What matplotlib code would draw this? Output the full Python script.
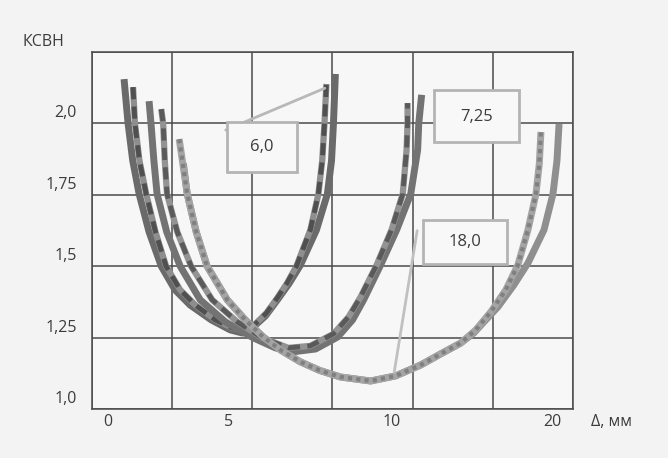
import numpy as np
import matplotlib
matplotlib.use('Agg')
import matplotlib.pyplot as plt
from matplotlib.patches import Rectangle

# --- data (Δ in mm, КСВН) ---
# group "6,0"
d60_solid = [1.0, 1.125, 1.27, 1.47, 1.78, 2.16, 2.59, 3.06, 3.72, 4.31, 4.69, 5.0, 5.41, 5.78, 6.15, 6.5, 7.0, 7.34, 7.47, 7.53, 7.59]
v60_solid = [2.155, 2.0, 1.87, 1.753, 1.62, 1.50, 1.417, 1.364, 1.312, 1.277, 1.266, 1.284, 1.326, 1.382, 1.44, 1.504, 1.627, 1.753, 1.87, 2.0, 2.173]
d60_dash = [1.28, 1.34, 1.48, 1.69, 1.98, 2.31, 2.75, 3.22, 3.84, 4.375, 4.72, 5.06, 5.44, 5.78, 6.08, 6.375, 6.81, 7.06, 7.18, 7.25, 7.31]
v60_dash = [2.127, 2.0, 1.87, 1.753, 1.62, 1.50, 1.417, 1.364, 1.312, 1.284, 1.277, 1.294, 1.336, 1.389, 1.44, 1.50, 1.627, 1.753, 1.87, 2.0, 2.138]

# group "7,25"
d725_solid = [1.78, 1.84, 1.93, 2.03, 2.33, 2.75, 3.375, 4.16, 5.03, 5.72, 6.25, 6.97, 7.66, 8.125, 8.47, 9.0, 9.5, 9.94, 10.31, 10.38, 10.56]
v725_solid = [2.078, 2.0, 1.87, 1.753, 1.62, 1.50, 1.382, 1.305, 1.249, 1.214, 1.20, 1.21, 1.252, 1.312, 1.382, 1.504, 1.627, 1.753, 1.907, 2.0, 2.10]
d725_dash = [2.16, 2.22, 2.27, 2.34, 2.66, 3.09, 3.75, 4.53, 5.31, 6.125, 6.81, 7.53, 8.0, 8.375, 8.875, 9.34, 9.69, 9.81, 9.84, 9.84]
v725_dash = [2.05, 2.0, 1.87, 1.753, 1.62, 1.50, 1.382, 1.305, 1.249, 1.214, 1.221, 1.263, 1.322, 1.392, 1.504, 1.627, 1.753, 1.907, 2.0, 2.071]

# group "18,0"
d18_dot = [2.72, 2.97, 3.25, 3.59, 4.22, 4.78, 5.34, 5.9, 6.5, 7.1, 7.75, 8.69, 9.47, 10.5, 11.75, 13.0, 13.94, 14.875, 15.81, 16.56, 17.19, 17.69, 17.9, 18.0]
v18_dot = [1.945, 1.753, 1.62, 1.50, 1.382, 1.312, 1.252, 1.205, 1.165, 1.135, 1.112, 1.098, 1.116, 1.154, 1.193, 1.231, 1.277, 1.34, 1.417, 1.504, 1.627, 1.753, 1.86, 1.97]
d18_solid = [2.85, 2.97, 3.25, 3.59, 4.22, 4.78, 5.34, 5.9, 6.5, 7.1, 7.75, 8.69, 9.47, 10.5, 11.75, 13.0, 13.81, 14.56, 15.31, 16.31, 17.19, 18.19, 18.75, 19.0, 19.13]
v18_solid = [1.86, 1.753, 1.62, 1.50, 1.382, 1.312, 1.252, 1.205, 1.165, 1.135, 1.112, 1.098, 1.116, 1.154, 1.193, 1.231, 1.266, 1.312, 1.357, 1.434, 1.511, 1.627, 1.753, 1.87, 1.998]

x_grid = [0, 2.5, 5, 7.5, 10, 15, 20]
x_labels = {0: '0', 5: '5', 10: '10', 20: '20'}
y_ticks = [1.0, 1.25, 1.5, 1.75, 2.0, 2.25]
y_labels = ['1,0', '1,25', '1,5', '1,75', '2,0']

plt.rcParams['font.family'] = ['Open Sans', 'DejaVu Sans']
txt_color = '#3c3c3c'

fig = plt.figure(figsize=(6.68, 4.58), dpi=100, facecolor='#f3f3f3')
ax = fig.add_axes([0.1377, 0.107, 0.7201, 0.7795], facecolor='#f7f7f7')


# the x axis in the scan is stretched: 0-10 mm take 4 cells, 10-20 mm only 2
def fwd(x):
    x = np.asarray(x, dtype=float)
    return np.where(x <= 10, x, 10 + (x - 10) / 2)


def inv(u):
    u = np.asarray(u, dtype=float)
    return np.where(u <= 10, u, 10 + (u - 10) * 2)


ax.set_xscale('function', functions=(fwd, inv))
ax.set_xlim(0, 20)
ax.set_ylim(1.0, 2.25)
ax.set_xticks(x_grid)
ax.set_yticks(y_ticks)
ax.tick_params(length=0, labelbottom=False, labelleft=False)
ax.grid(True, color='#4a4a4a', lw=1.1)
ax.set_axisbelow(True)
for s in ax.spines.values():
    s.set_color('#4a4a4a')
    s.set_linewidth(1.1)

# --- curves ---
line_kw = dict(solid_capstyle='butt', solid_joinstyle='round')
ax.plot(d60_solid, v60_solid, color='#6a6a6a', lw=5, **line_kw)
ax.plot(d60_dash, v60_dash, color='#8e8e8e', lw=4.5, **line_kw)
ax.plot(d60_dash, v60_dash, color='#505050', lw=3.5, dashes=(2.5, 1.5))

ax.plot(d725_solid, v725_solid, color='#737373', lw=5, **line_kw)
ax.plot(d725_dash, v725_dash, color='#939393', lw=4.5, **line_kw)
ax.plot(d725_dash, v725_dash, color='#5a5a5a', lw=3.5, dashes=(2.5, 1.5))

ax.plot(d18_solid, v18_solid, color='#8f8f8f', lw=5, **line_kw)
ax.plot(d18_dot, v18_dot, color='#a4a4a4', lw=5, **line_kw)
ax.plot(d18_dot, v18_dot, color='#808080', lw=3, dashes=(1, 1))

# --- labelled boxes ---
box_kw = dict(transform=ax.transAxes, fc='#f8f8f8', ec='#b4b4b4', lw=2, zorder=4)
ax.add_patch(Rectangle((0.281, 0.664), 0.145, 0.140, **box_kw))
ax.add_patch(Rectangle((0.711, 0.748), 0.177, 0.146, **box_kw))
ax.add_patch(Rectangle((0.688, 0.406), 0.175, 0.123, **box_kw))
ax.text(0.3535, 0.734, '6,0', transform=ax.transAxes, ha='center', va='center',
        fontsize=12, color=txt_color, zorder=5)
ax.text(0.7995, 0.818, '7,25', transform=ax.transAxes, ha='center', va='center',
        fontsize=12, color=txt_color, zorder=5)
ax.text(0.7755, 0.468, '18,0', transform=ax.transAxes, ha='center', va='center',
        fontsize=12, color=txt_color, zorder=5)

# leader lines
ax.annotate('', xy=(7.34, 2.127), xytext=(4.09, 1.973),
            arrowprops=dict(arrowstyle='-', color='#b8b8b8', lw=2), zorder=3)
ax.annotate('', xy=(9.41, 1.119), xytext=(10.31, 1.634),
            arrowprops=dict(arrowstyle='-', color='#c0c0c0', lw=2), zorder=3)

# --- tick labels (the scan has them slightly off the grid lines) ---
x_offsets = {0: 16, 5: -24, 10: -21, 20: -21}
for val, lab in x_labels.items():
    ax.annotate(lab, xy=(val, 0), xycoords=ax.get_xaxis_transform(),
                xytext=(x_offsets[val], -13), textcoords='offset pixels',
                ha='center', va='center', fontsize=11.5, color=txt_color,
                annotation_clip=False)
for val, lab in zip(y_ticks, y_labels):
    ax.annotate(lab, xy=(0, val), xycoords=ax.get_yaxis_transform(),
                xytext=(-15, 10), textcoords='offset pixels',
                ha='right', va='center', fontsize=11.5, color=txt_color,
                annotation_clip=False)

ax.annotate('Δ, мм', xy=(1, 0), xycoords='axes fraction', xytext=(18, -13),
            textcoords='offset pixels', ha='left', va='center',
            fontsize=11.5, color=txt_color, annotation_clip=False)
fig.text(23 / 668, 1 - 42 / 458, 'КСВН', ha='left', va='center',
         fontsize=11.5, color=txt_color)

plt.savefig('out.png', dpi=100, facecolor=fig.get_facecolor())
